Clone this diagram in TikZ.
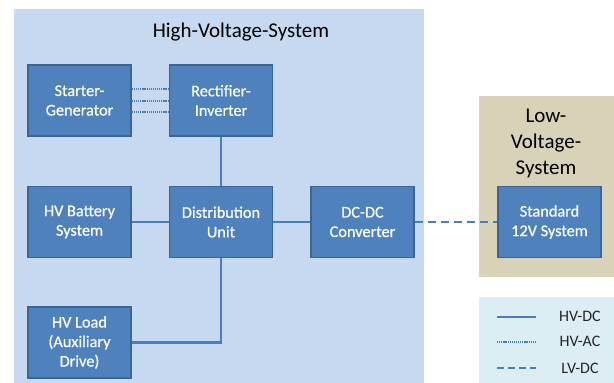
\documentclass[tikz,border=0pt]{standalone}
\usepackage{fontspec}
\setmainfont{Carlito}
\newfontfamily\boxfont{Carlito}[FakeBold=0.5]
\definecolor{hvbg}{HTML}{C6D9F0}
\definecolor{lvbg}{HTML}{D8D2B8}
\definecolor{lgbg}{HTML}{DCEEF3}
\definecolor{boxfill}{HTML}{4F81BD}
\definecolor{boxline}{HTML}{3A6594}
\definecolor{conn}{HTML}{4A7EBB}
\tikzset{
  blockbox/.style={draw=boxline, line width=1.6pt, fill=boxfill, text=white,
    minimum width=103pt, minimum height=71pt, align=center, inner sep=2pt,
    font=\boxfont\fontsize{16.3}{19.5}\selectfont},
  hvdc/.style={draw=conn, line width=2.4pt},
  hvac/.style={draw=conn, line width=2pt, dash pattern=on 1.2pt off 0.9pt},
  lvdc/.style={draw=conn, line width=2.4pt, dash pattern=on 8pt off 5pt},
  legtext/.style={font=\fontsize{16}{18}\selectfont, text=black!85},
}
\begin{document}
\begin{tikzpicture}[x=1pt,y=-1pt]
\useasboundingbox (0,0) rectangle (614,383);
% backgrounds
\fill[white] (0,0) rectangle (614,383);
\fill[hvbg] (13.7,9.3) rectangle (423.7,383);
\fill[lvbg] (478.5,95.7) rectangle (614,277);
\fill[lgbg] (478.5,297) rectangle (614,383);
% titles
\node[font=\fontsize{21}{25}\selectfont] (hvtitle) at (241,32) {High-Voltage-System};
\node[font=\fontsize{21}{26}\selectfont, align=center] (lvtitle) at (546,143) {Low-\\Voltage-\\System};
% blocks
\node[blockbox] (sg) at (79.5,100.5) {Starter-\\Generator};
\node[blockbox] (ri) at (221,100.5) {Rectifier-\\Inverter};
\node[blockbox] (hvb) at (79.5,222) {HV Battery\\System};
\node[blockbox] (du) at (221,222) {Distribution\\Unit};
\node[blockbox] (dc) at (362.5,222) {DC-DC\\Converter};
\node[blockbox] (ld) at (79.5,342.5) {HV Load\\(Auxiliary\\Drive)};
\node[blockbox] (std) at (549.5,222) {Standard\\12V System};
% connectors
\draw[hvac] ([yshift=11.5pt]sg.east) -- ([yshift=11.5pt]ri.west);
\draw[hvac] (sg.east) -- (ri.west);
\draw[hvac] ([yshift=-11pt]sg.east) -- ([yshift=-11pt]ri.west);
\draw[hvdc] (ri) -- (du);
\draw[hvdc] (hvb) -- (du);
\draw[hvdc] (du) -- (dc);
\draw[hvdc] (du.south) |- (ld.east);
\draw[lvdc] (dc.east) -- (std.west);
% legend
\coordinate (l1a) at (497,317); \coordinate (l1b) at (536,317);
\coordinate (l2a) at (497,342); \coordinate (l2b) at (536,342);
\coordinate (l3a) at (497,368); \coordinate (l3b) at (536,368);
\draw[hvdc] (l1a) -- (l1b);
\draw[hvac] (l2a) -- (l2b);
\draw[lvdc, dash pattern=on 7pt off 4pt] (l3a) -- (l3b);
\node[legtext] (lg1) at (580,316) {HV-DC};
\node[legtext] (lg2) at (580,341) {HV-AC};
\node[legtext] (lg3) at (580,368) {LV-DC};
\end{tikzpicture}
\end{document}
